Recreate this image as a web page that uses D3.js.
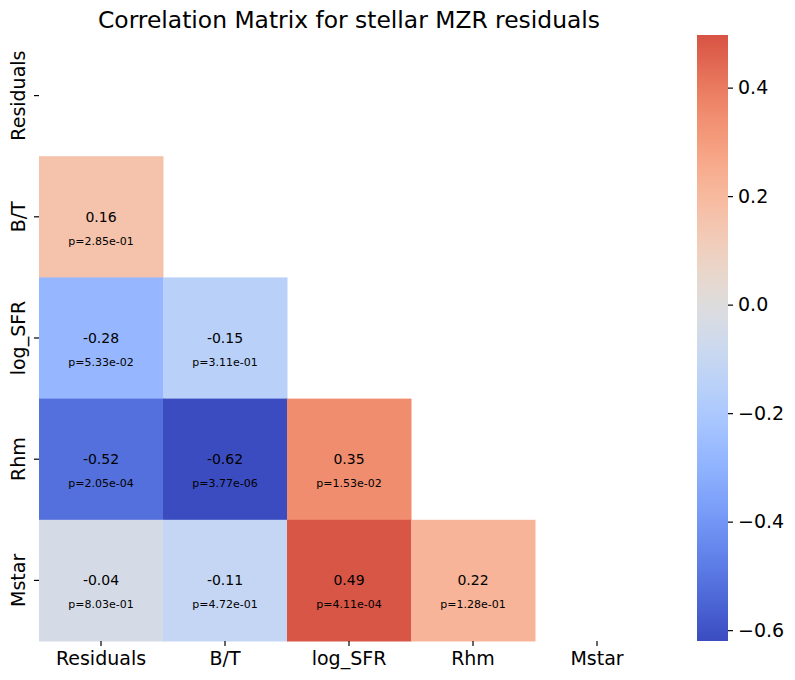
<!DOCTYPE html>
<html>
<head>
<meta charset="utf-8">
<script src="https://cdn.jsdelivr.net/npm/d3@7"></script>
<style>
  html, body { margin: 0; padding: 0; background: #fff; }
  svg { display: block; font-family: "DejaVu Sans", sans-serif; }
</style>
</head>
<body>
<svg id="chart" width="795" height="680"></svg>
<script>
// ---- data ----
const variables = ["Residuals", "B/T", "log_SFR", "Rhm", "Mstar"];
// lower-triangle correlation values, row by row (row i has i entries)
const corrRows = [
  [],
  [0.16],
  [-0.28, -0.15],
  [-0.52, -0.62, 0.35],
  [-0.04, -0.11, 0.49, 0.22]
];
const pRows = [
  [],
  ["2.85e-01"],
  ["5.33e-02", "3.11e-01"],
  ["2.05e-04", "3.77e-06", "1.53e-02"],
  ["8.03e-01", "4.72e-01", "4.11e-04", "1.28e-01"]
];
const colorbarRange = [-0.62, 0.497];
const colorbarTicks = [-0.6, -0.4, -0.2, 0.0, 0.2, 0.4];
const titleText = "Correlation Matrix for stellar MZR residuals";

// coolwarm colormap table (Moreland)
const coolwarm = [
  [59,76,192],[68,90,204],[77,104,215],[87,117,225],[98,130,234],[108,142,241],
  [119,154,247],[130,165,251],[141,176,254],[152,185,255],[163,194,255],[174,201,253],
  [184,208,249],[194,213,244],[204,217,238],[213,219,230],[221,221,221],[229,216,209],
  [236,211,197],[241,204,185],[245,196,173],[247,187,160],[247,177,148],[247,166,135],
  [244,154,123],[241,141,111],[236,127,99],[229,112,88],[222,96,77],[213,80,66],
  [203,62,56],[192,40,47],[180,4,38]
].map(c => d3.rgb(c[0], c[1], c[2]).toString());
const cmapInterp = d3.piecewise(d3.interpolateRgb, coolwarm);

// centred at 0 (seaborn center=0)
const vr = Math.max(Math.abs(colorbarRange[0]), Math.abs(colorbarRange[1]));
const color = v => cmapInterp(Math.max(0, Math.min(1, 0.5 + v / (2 * vr))));

// ---- layout ----
const svg = d3.select("#chart");
const hm = { left: 39, right: 659, top: 35, bottom: 641 };
const x = d3.scaleBand().domain(variables).range([hm.left, hm.right]);
const y = d3.scaleBand().domain(variables).range([hm.top, hm.bottom]);

const cells = [];
corrRows.forEach((row, i) => row.forEach((v, j) => {
  cells.push({ r: variables[i], c: variables[j], v: v, p: pRows[i][j] });
}));

const g = svg.append("g");
g.selectAll("rect.cell").data(cells).enter().append("rect")
  .attr("class", "cell")
  .attr("x", d => x(d.c))
  .attr("y", d => y(d.r))
  .attr("width", x.bandwidth() + 0.5)
  .attr("height", y.bandwidth() + 0.5)
  .attr("fill", d => color(d.v));

g.selectAll("text.val").data(cells).enter().append("text")
  .attr("x", d => x(d.c) + x.bandwidth() / 2)
  .attr("y", d => y(d.r) + y.bandwidth() / 2)
  .attr("dy", "0.35em")
  .attr("text-anchor", "middle")
  .attr("font-size", 14)
  .attr("fill", "#000")
  .text(d => d3.format(".2f")(d.v).replace("−", "-"));

g.selectAll("text.pv").data(cells).enter().append("text")
  .attr("x", d => x(d.c) + x.bandwidth() / 2)
  .attr("y", d => y(d.r) + y.bandwidth() / 2 + 0.2 * y.bandwidth())
  .attr("dy", "0.35em")
  .attr("text-anchor", "middle")
  .attr("font-size", 11)
  .attr("fill", "#000")
  .text(d => "p=" + d.p);

// axes
const xAxis = svg.append("g")
  .attr("transform", `translate(0,${hm.bottom})`)
  .call(d3.axisBottom(x).tickSize(5).tickPadding(6));
xAxis.select(".domain").remove();
xAxis.selectAll("text").attr("font-size", 19).attr("font-family", "DejaVu Sans").attr("fill", "#000");
xAxis.selectAll("line").attr("stroke", "#000").attr("stroke-width", 1.2);

const yAxis = svg.append("g")
  .attr("transform", `translate(${hm.left},0)`)
  .call(d3.axisLeft(y).tickSize(5).tickPadding(6));
yAxis.select(".domain").remove();
yAxis.selectAll("line").attr("stroke", "#000").attr("stroke-width", 1.2);
yAxis.selectAll("text")
  .attr("font-size", 19).attr("font-family", "DejaVu Sans").attr("fill", "#000")
  .attr("text-anchor", "middle")
  .attr("x", 0).attr("dy", 0)
  .attr("transform", "translate(-20,0) rotate(-90)")
  .attr("dominant-baseline", "middle");

// title
svg.append("text")
  .attr("x", (hm.left + hm.right) / 2)
  .attr("y", 28)
  .attr("text-anchor", "middle")
  .attr("font-size", 23.4)
  .attr("fill", "#000")
  .text(titleText);

// colorbar
const cb = { x: 697, w: 31, top: 35, bottom: 641 };
const cy = d3.scaleLinear().domain(colorbarRange).range([cb.bottom, cb.top]);
const defs = svg.append("defs");
const grad = defs.append("linearGradient").attr("id", "cbgrad")
  .attr("x1", 0).attr("y1", 1).attr("x2", 0).attr("y2", 0);
d3.range(0, 1.0001, 0.02).forEach(t => {
  const v = colorbarRange[0] + t * (colorbarRange[1] - colorbarRange[0]);
  grad.append("stop").attr("offset", t).attr("stop-color", color(v));
});
svg.append("rect")
  .attr("x", cb.x).attr("y", cb.top)
  .attr("width", cb.w).attr("height", cb.bottom - cb.top)
  .attr("fill", "url(#cbgrad)");
const cAxis = svg.append("g")
  .attr("transform", `translate(${cb.x + cb.w},0)`)
  .call(d3.axisRight(cy).tickValues(colorbarTicks).tickSize(5).tickPadding(5)
    .tickFormat(d => d3.format(".1f")(d)));
cAxis.select(".domain").remove();
cAxis.selectAll("line").attr("stroke", "#000").attr("stroke-width", 1.2);
cAxis.selectAll("text").attr("font-size", 19).attr("font-family", "DejaVu Sans").attr("fill", "#000");
</script>
</body>
</html>
